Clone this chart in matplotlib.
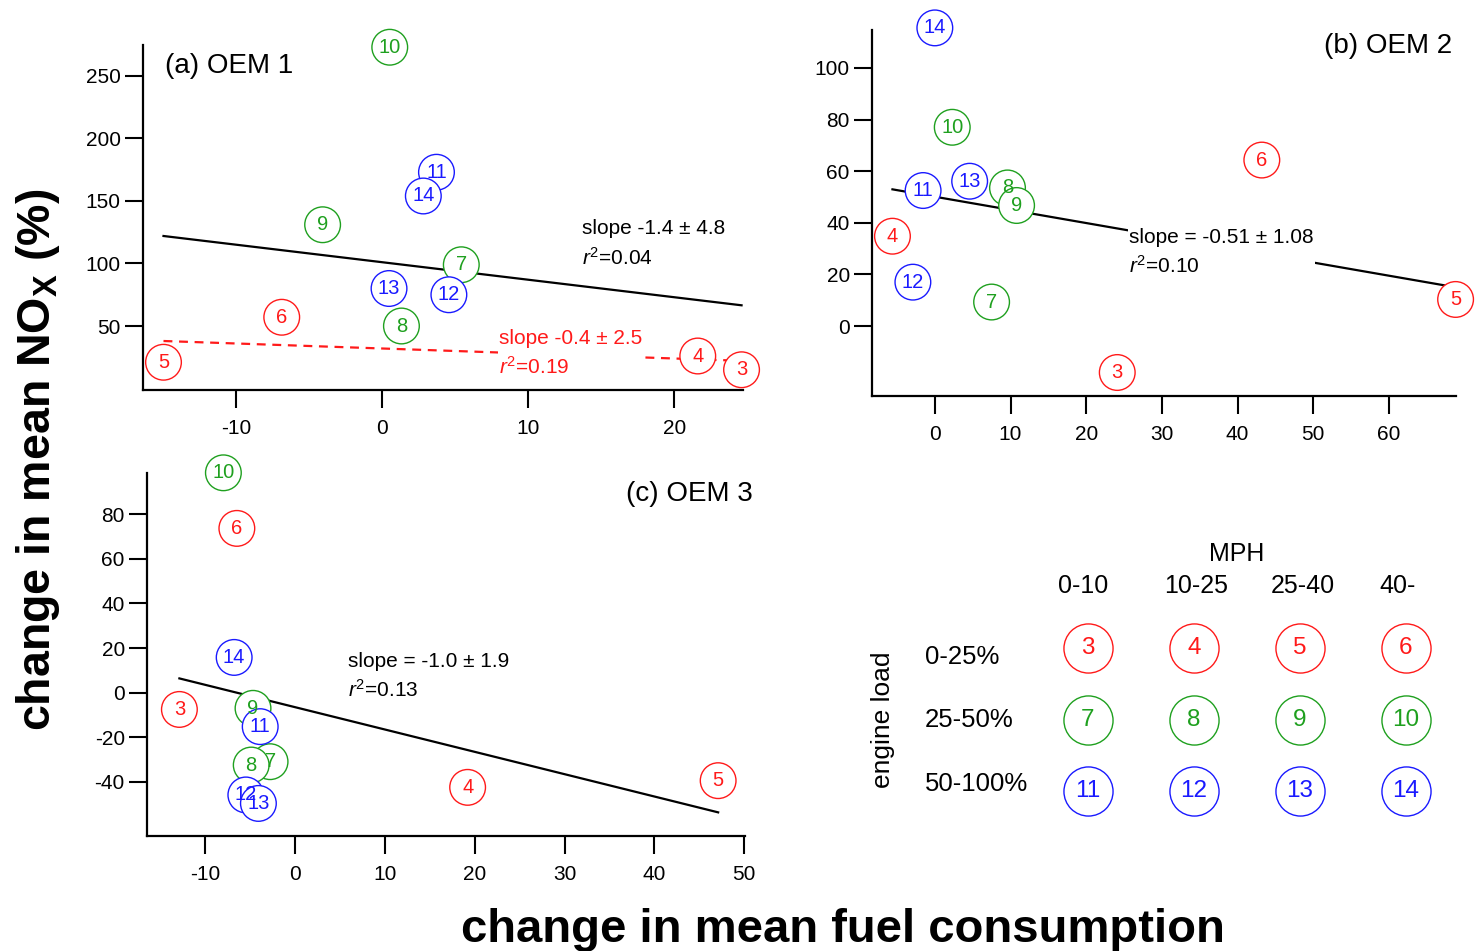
import matplotlib
matplotlib.use("Agg")
import matplotlib.pyplot as plt

plt.rcParams['font.family'] = ['Liberation Sans', 'DejaVu Sans']
plt.rcParams['mathtext.fontset'] = 'custom'
plt.rcParams['mathtext.rm'] = 'Liberation Sans'
plt.rcParams['mathtext.it'] = 'Liberation Sans:italic'
plt.rcParams['mathtext.bf'] = 'Liberation Sans:bold'
plt.rcParams['axes.unicode_minus'] = False

# test conditions 3..14 (rows: engine load, columns: speed bin)
ids = [3, 4, 5, 6, 7, 8, 9, 10, 11, 12, 13, 14]
load_rows = ["0-25%", "25-50%", "50-100%"]
mph_cols = ["0-10", "10-25", "25-40", "40-"]
row_colors = ["#ff1a1a", "#1fa01f", "#1a1aff"]

# change in fuel consumption (x) and NOx (y), percent
oem1_x = [24.6, 21.6, -15.0, -6.9, 5.4, 1.3, -4.1, 0.5, 3.7, 4.55, 0.45, 2.8]
oem1_y = [15, 26, 21, 57, 99, 50, 131, 273, 173, 75, 80, 154]
oem2_x = [24.1, -5.6, 68.8, 43.2, 7.5, 9.6, 10.8, 2.3, -1.55, -2.9, 4.6, 0.0]
oem2_y = [-18, 34.8, 10.3, 64.3, 9.3, 53.5, 46.7, 77, 52.5, 17, 56.1, 115.5]
oem3_x = [-12.9, 19.2, 47.1, -6.5, -2.8, -4.9, -4.7, -8.0, -3.9, -5.5, -4.1, -6.8]
oem3_y = [-7.5, -42.4, -39.4, 73.6, -30.9, -32.4, -7.0, 98.5, -15.2, -45.8, -49.6, 15.8]

# linear fits: (slope, intercept, slope error, r2)
fit1_all = (-1.4, 101.0, 4.8, 0.04)
fit1_low = (-0.4, 32.0, 2.5, 0.19)   # 0-25% load only
fit2_all = (-0.51, 50.1, 1.08, 0.10)
fit3_all = (-1.0, -6.5, 1.9, 0.13)


def color_of(n):
    return row_colors[(n - 3) // 4]


def style_axes(ax):
    for s in ["top", "right"]:
        ax.spines[s].set_visible(False)
    for s in ["left", "bottom"]:
        ax.spines[s].set_linewidth(1.6)
    ax.tick_params(direction="out", length=13, width=1.5, labelsize=15)
    ax.tick_params(axis="x", pad=8)
    ax.tick_params(axis="y", pad=3)


def draw_points(ax, xs, ys):
    cols = [color_of(n) for n in ids]
    ax.scatter(xs, ys, s=660, facecolors="white", edgecolors=cols,
               linewidths=1.0, zorder=3, clip_on=False)
    for n, x, y, c in zip(ids, xs, ys, cols):
        ax.text(x, y, str(n), color=c, fontsize=14.5, ha="center",
                va="center", zorder=4)


def draw_fit(ax, fit, x0, x1, **kw):
    m, b = fit[0], fit[1]
    ax.plot([x0, x1], [m * x0 + b, m * x1 + b], zorder=2, **kw)


def fit_label(ax, x, y, txt, color="black"):
    ax.text(x, y, txt, color=color, fontsize=15, ha="left", va="center",
            multialignment="left", linespacing=1.45, zorder=2.5,
            bbox=dict(facecolor="white", edgecolor="none", pad=1))


fig = plt.figure(figsize=(14.81, 9.51), dpi=100)

# (a) OEM 1
ax1 = fig.add_axes([0.0966, 0.5899, 0.4051, 0.3628])
style_axes(ax1)
ax1.set_xlim(-16.4, 24.7)
ax1.set_ylim(-1.2, 274.8)
ax1.set_xticks([-10, 0, 10, 20])
ax1.set_yticks([50, 100, 150, 200, 250])
draw_fit(ax1, fit1_all, min(oem1_x), max(oem1_x), color="black", lw=1.6)
low_x = oem1_x[:4]
draw_fit(ax1, fit1_low, min(low_x), max(low_x), color="#ff1a1a", lw=1.6,
         ls=(0, (4, 3)))
draw_points(ax1, oem1_x, oem1_y)
ax1.text(-14.9, 258, "(a) OEM 1", fontsize=20, ha="left", va="center")
fit_label(ax1, 13.7, 115.7,
          "slope %.1f \u00b1 %.1f\n$r^2$=%.2f" % (fit1_all[0], fit1_all[2], fit1_all[3]))
fit_label(ax1, 8.0, 28,
          "slope %.1f \u00b1 %.1f\n$r^2$=%.2f" % (fit1_low[0], fit1_low[2], fit1_low[3]),
          color="#ff1a1a")

# (b) OEM 2
ax2 = fig.add_axes([0.5888, 0.5836, 0.3943, 0.3849])
style_axes(ax2)
ax2.set_xlim(-8.3, 68.85)
ax2.set_ylim(-27.1, 114.7)
ax2.set_xticks([0, 10, 20, 30, 40, 50, 60])
ax2.set_yticks([0, 20, 40, 60, 80, 100])
draw_fit(ax2, fit2_all, min(oem2_x), max(oem2_x), color="black", lw=1.6)
draw_points(ax2, oem2_x, oem2_y)
ax2.text(68.4, 108.4, "(b) OEM 2", fontsize=20, ha="right", va="center")
fit_label(ax2, 25.7, 28.5,
          "slope = %.2f \u00b1 %.2f\n$r^2$=%.2f" % (fit2_all[0], fit2_all[2], fit2_all[3]))

# (c) OEM 3
ax3 = fig.add_axes([0.0993, 0.1209, 0.4038, 0.3817])
style_axes(ax3)
ax3.set_xlim(-16.5, 50.1)
ax3.set_ylim(-64.2, 98.4)
ax3.set_xticks([-10, 0, 10, 20, 30, 40, 50])
ax3.set_yticks([-40, -20, 0, 20, 40, 60, 80])
draw_fit(ax3, fit3_all, min(oem3_x), max(oem3_x), color="black", lw=1.6)
draw_points(ax3, oem3_x, oem3_y)
ax3.text(50.9, 89, "(c) OEM 3", fontsize=20, ha="right", va="center")
fit_label(ax3, 5.9, 7.3,
          "slope = %.1f \u00b1 %.1f\n$r^2$=%.2f" % (fit3_all[0], fit3_all[2], fit3_all[3]))

# key: engine load rows x speed columns
leg = fig.add_axes([1035 / 1481, 1 - 826.75 / 951, 424 / 1481, 214.5 / 951])
leg.set_xlim(-0.5, 3.5)
leg.set_ylim(2.5, -0.5)
leg.axis("off")
for r in range(len(load_rows)):
    for c in range(len(mph_cols)):
        n = ids[r * 4 + c]
        leg.scatter([c], [r], s=1250, facecolors="white",
                    edgecolors=row_colors[r], linewidths=1.0, clip_on=False)
        leg.text(c, r, str(n), color=row_colors[r], fontsize=17.5,
                 ha="center", va="center")
head_x = [-0.05, 0.02, 0.03, -0.08]
for c, lab in enumerate(mph_cols):
    leg.text(c + head_x[c], -0.87, lab, fontsize=18, ha="center",
             va="center", clip_on=False)
leg.text(1.40, -1.31, "MPH", fontsize=18, ha="center", va="center",
         clip_on=False)
for r, lab in zip([0.13, 1.01, 1.9], load_rows):
    leg.text(-1.54, r, lab, fontsize=18.5, ha="left", va="center",
             clip_on=False)
leg.text(-1.93, 1.0, "engine load", fontsize=19, rotation=90,
         ha="center", va="center", clip_on=False)

# shared axis titles
fig.text(0.0257, 0.516, r"change in mean NO$_\mathbf{X}$ (%)", fontsize=33.5,
         fontweight="bold", rotation=90, ha="center", va="center")
fig.text(0.5695, 0.0095, "change in mean fuel consumption", fontsize=34,
         fontweight="bold", ha="center", va="baseline")

fig.savefig("out.png", dpi=100)
